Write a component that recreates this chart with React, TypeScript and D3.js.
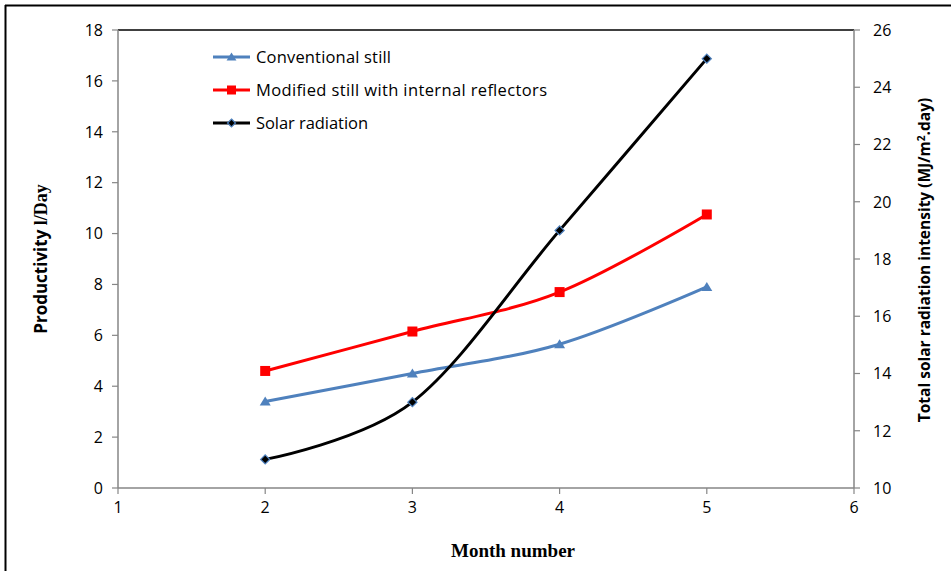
import React from "react";
import * as d3 from "d3";

const months = [2, 3, 4, 5];
const conventional = [3.4, 4.5, 5.65, 7.9];
const modified = [4.6, 6.15, 7.7, 10.75];
const solar = [11.0, 13.0, 19.0, 25.0];
const xTicks = [1, 2, 3, 4, 5, 6];
const yLeftTicks = [0, 2, 4, 6, 8, 10, 12, 14, 16, 18];
const yRightTicks = [10, 12, 14, 16, 18, 20, 22, 24, 26];
const legendLabels = ["Conventional still", "Modified still with internal reflectors", "Solar radiation"];
const legendWidths = [135, 291, 112];

const W = 951, H = 571;
const L = 118, R = 854, T = 30, B = 488;
const FONT = "'Open Sans', 'Noto Sans', sans-serif";

export default function App() {
  const x = d3.scaleLinear().domain([1, 6]).range([L, R]);
  const yL = d3.scaleLinear().domain([0, 18]).range([B, T]);
  const yR = d3.scaleLinear().domain([10, 26]).range([B, T]);
  const curve = d3.curveCatmullRom.alpha(0);
  const lineL = d3.line<number>().x((_, i) => x(months[i])).y((d) => yL(d)).curve(curve);
  const lineR = d3.line<number>().x((_, i) => x(months[i])).y((d) => yR(d)).curve(curve);
  const blue = "#4F81BD";
  const red = "#FF0000";
  const tri = (cx: number, cy: number, s: number) =>
    `M${cx},${cy - s}L${cx + s * 1.1},${cy + s * 0.8}L${cx - s * 1.1},${cy + s * 0.8}Z`;
  const dia = (cx: number, cy: number, s: number) =>
    `M${cx},${cy - s}L${cx + s},${cy}L${cx},${cy + s}L${cx - s},${cy}Z`;

  const legY = [57, 90, 123];
  const legX0 = 213, legX1 = 250;

  return (
    <svg width={W} height={H} style={{ position: "absolute", left: 0, top: 0, background: "#fff" }}>
      <rect x={0} y={0} width={W} height={H} fill="#fff" />
      {/* outer frame */}
      <line x1={5} y1={5.5} x2={W} y2={5.5} stroke="#000" strokeWidth={2} />
      <line x1={5.5} y1={5} x2={5.5} y2={H} stroke="#000" strokeWidth={2} />
      {/* plot area */}
      <line x1={L} y1={T} x2={R} y2={T} stroke="#000" strokeWidth={1.5} />
      <line x1={L} y1={T} x2={L} y2={B} stroke="#868686" strokeWidth={1.5} />
      <line x1={R} y1={T} x2={R} y2={B} stroke="#868686" strokeWidth={1.5} />
      <line x1={L} y1={B} x2={R} y2={B} stroke="#868686" strokeWidth={1.5} />
      {yLeftTicks.map((t) => (
        <g key={"l" + t}>
          <line x1={L - 6} x2={L} y1={yL(t)} y2={yL(t)} stroke="#868686" strokeWidth={1.2} />
          <text x={L - 15} y={yL(t)} dy="0.36em" textAnchor="end" fontFamily={FONT} fontSize={16}>{t}</text>
        </g>
      ))}
      {yRightTicks.map((t) => (
        <g key={"r" + t}>
          <line x1={R} x2={R + 6} y1={yR(t)} y2={yR(t)} stroke="#868686" strokeWidth={1.2} />
          <text x={R + 19} y={yR(t)} dy="0.36em" textAnchor="start" fontFamily={FONT} fontSize={16}>{t}</text>
        </g>
      ))}
      {xTicks.map((t) => (
        <g key={"x" + t}>
          <line x1={x(t)} x2={x(t)} y1={B} y2={B + 6} stroke="#868686" strokeWidth={1.2} />
          <text x={x(t)} y={B + 25} textAnchor="middle" fontFamily={FONT} fontSize={16}>{t}</text>
        </g>
      ))}
      {/* axis titles */}
      <text transform={`translate(47,${(T + B) / 2 + 0}) rotate(-90)`} textAnchor="middle" fontSize={17} fontWeight="bold">
        <tspan fontFamily={FONT}>Productivity </tspan>
        <tspan fontFamily="'Liberation Serif', serif" fontSize={18}> l/Day</tspan>
      </text>
      <text x={513} y={557} textAnchor="middle" fontFamily="'Liberation Serif', serif" fontSize={19} fontWeight="bold">Month number</text>
      <text transform={`translate(930,${(T + B) / 2 + 1}) rotate(-90)`} textAnchor="middle" fontFamily={FONT} fontSize={15.5} fontWeight="bold">
        Total solar radiation intensity (MJ/m<tspan dy={-5} fontSize={10}>2</tspan><tspan dy={5}>.day)</tspan>
      </text>
      {/* series */}
      <path d={lineL(conventional) || ""} fill="none" stroke={blue} strokeWidth={3} />
      <path d={lineL(modified) || ""} fill="none" stroke={red} strokeWidth={3} />
      <path d={lineR(solar) || ""} fill="none" stroke="#000" strokeWidth={3} />
      {conventional.map((v, i) => (
        <path key={"c" + i} d={tri(x(months[i]), yL(v), 5)} fill={blue} />
      ))}
      {modified.map((v, i) => (
        <rect key={"m" + i} x={x(months[i]) - 5} y={yL(v) - 5} width={10} height={10} fill={red} />
      ))}
      {solar.map((v, i) => (
        <path key={"s" + i} d={dia(x(months[i]), yR(v), 4.5)} fill="#000" stroke={blue} strokeWidth={1.3} />
      ))}
      {/* legend */}
      <line x1={legX0} x2={legX1} y1={legY[0]} y2={legY[0]} stroke={blue} strokeWidth={3} />
      <path d={tri((legX0 + legX1) / 2, legY[0], 4.5)} fill={blue} />
      <line x1={legX0} x2={legX1} y1={legY[1]} y2={legY[1]} stroke={red} strokeWidth={3} />
      <rect x={(legX0 + legX1) / 2 - 4.5} y={legY[1] - 4.5} width={9} height={9} fill={red} />
      <line x1={legX0} x2={legX1} y1={legY[2]} y2={legY[2]} stroke="#000" strokeWidth={3} />
      <path d={dia((legX0 + legX1) / 2, legY[2], 4)} fill="#000" stroke={blue} strokeWidth={1.2} />
      {legendLabels.map((s, i) => (
        <text key={s} x={256} y={legY[i]} dy="0.36em" fontFamily={FONT} fontSize={16.5}
          textLength={legendWidths[i]} lengthAdjust="spacing">{s}</text>
      ))}
    </svg>
  );
}
